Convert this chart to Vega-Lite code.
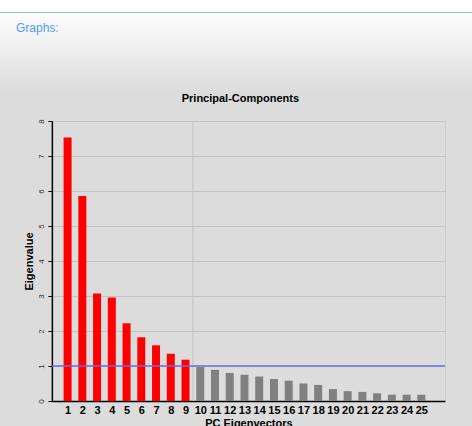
{
  "$schema": "https://vega.github.io/schema/vega-lite/v6.json",
  "background": "#dcdcdc",
  "padding": 0,
  "spacing": 0,
  "center": true,
  "bounds": "full",
  "config": {"font": "Liberation Sans"},
  "vconcat": [
    {
      "width": 498,
      "height": 92,
      "title": {"text": "Graphs:", "anchor": "start", "frame": "group", "orient": "top", "offset": -31, "baseline": "alphabetic", "dx": 16, "dy": 13, "fontSize": 12, "fontWeight": "normal", "color": "#4d9ff5"},
      "view": {"fill": {"gradient": "linear", "x1": 0, "y1": 0, "x2": 0, "y2": 1, "stops": [{"offset": 0, "color": "#ffffff"}, {"offset": 0.125, "color": "#ffffff"}, {"offset": 0.126, "color": "#a2b9cf"}, {"offset": 0.138, "color": "#a2b9cf"}, {"offset": 0.139, "color": "#fdfdfd"}, {"offset": 1, "color": "#dcdcdc"}]}, "stroke": null},
      "data": {"values": [{"t": ""}]},
      "mark": {"type": "text"},
      "encoding": {"text": {"field": "t"}}
    },
    {
      "width": 393,
      "height": 280,
      "title": {"text": "Principal-Components", "fontSize": 11, "fontWeight": "bold", "color": "#000000", "offset": 4, "baseline": "bottom", "dx": -8},
      "view": {"stroke": "#c8c8c8", "fill": "#dcdcdc"},
      "layer": [
        {
          "data": {"values": [{"pc": 9.5}]},
          "mark": {"type": "rule", "color": "#c4c4c4", "strokeWidth": 1},
          "encoding": {"x": {"field": "pc", "type": "quantitative", "scale": {"domain": [0.273, 26.256], "nice": false, "zero": false},
              "axis": {"title": "PC Eigenvectors", "values": [1,2,3,4,5,6,7,8,9,10,11,12,13,14,15,16,17,18,19,20,21,22,23,24,25], "format": "d", "ticks": false, "grid": false, "labelFontSize": 11, "labelFontWeight": "bold", "labelColor": "#000000", "labelPadding": 3, "labelFlush": false, "labelOverlap": false, "domainColor": "#000000", "domainWidth": 1.5, "titleFontSize": 11, "titleFontWeight": "bold", "titleColor": "#000000", "titlePadding": 2}}}
        },
        {
          "data": {"values": [
            {"pc": 1, "eig": 7.53, "grp": "sel"},
            {"pc": 2, "eig": 5.86, "grp": "sel"},
            {"pc": 3, "eig": 3.07, "grp": "sel"},
            {"pc": 4, "eig": 2.96, "grp": "sel"},
            {"pc": 5, "eig": 2.22, "grp": "sel"},
            {"pc": 6, "eig": 1.82, "grp": "sel"},
            {"pc": 7, "eig": 1.59, "grp": "sel"},
            {"pc": 8, "eig": 1.35, "grp": "sel"},
            {"pc": 9, "eig": 1.18, "grp": "sel"},
            {"pc": 10, "eig": 0.97, "grp": "rest"},
            {"pc": 11, "eig": 0.89, "grp": "rest"},
            {"pc": 12, "eig": 0.8, "grp": "rest"},
            {"pc": 13, "eig": 0.75, "grp": "rest"},
            {"pc": 14, "eig": 0.7, "grp": "rest"},
            {"pc": 15, "eig": 0.63, "grp": "rest"},
            {"pc": 16, "eig": 0.58, "grp": "rest"},
            {"pc": 17, "eig": 0.5, "grp": "rest"},
            {"pc": 18, "eig": 0.46, "grp": "rest"},
            {"pc": 19, "eig": 0.34, "grp": "rest"},
            {"pc": 20, "eig": 0.28, "grp": "rest"},
            {"pc": 21, "eig": 0.26, "grp": "rest"},
            {"pc": 22, "eig": 0.22, "grp": "rest"},
            {"pc": 23, "eig": 0.18, "grp": "rest"},
            {"pc": 24, "eig": 0.18, "grp": "rest"},
            {"pc": 25, "eig": 0.18, "grp": "rest"}
          ]},
          "mark": {"type": "bar", "size": 8},
          "encoding": {
            "x": {"field": "pc", "type": "quantitative", "scale": {"domain": [0.273, 26.256], "nice": false, "zero": false},
              "axis": {"title": "PC Eigenvectors", "values": [1,2,3,4,5,6,7,8,9,10,11,12,13,14,15,16,17,18,19,20,21,22,23,24,25], "format": "d", "ticks": false, "grid": false, "labelFontSize": 11, "labelFontWeight": "bold", "labelColor": "#000000", "labelPadding": 3, "labelFlush": false, "labelOverlap": false, "domainColor": "#000000", "domainWidth": 1.5, "titleFontSize": 11, "titleFontWeight": "bold", "titleColor": "#000000", "titlePadding": 2}},
            "y": {"field": "eig", "type": "quantitative", "scale": {"domain": [0, 8], "nice": false},
              "axis": {"title": "Eigenvalue", "values": [0,1,2,3,4,5,6,7,8], "labelAngle": -90, "labelFontSize": 8, "labelColor": "#333333", "labelPadding": 2, "labelOverlap": false, "tickSize": 4, "tickColor": "#000000", "domainColor": "#000000", "domainWidth": 1.5, "grid": true, "gridColor": "#c4c4c4", "titleFontSize": 11, "titleFontWeight": "bold", "titleColor": "#000000", "titlePadding": 3}},
            "color": {"field": "grp", "type": "nominal", "scale": {"domain": ["sel", "rest"], "range": ["#ff0000", "#808080"]}, "legend": null}
          }
        },
        {
          "data": {"values": [{"eig": 1}]},
          "mark": {"type": "rule", "color": "#6b6be0", "strokeWidth": 1.5},
          "encoding": {"y": {"field": "eig", "type": "quantitative", "scale": {"domain": [0, 8], "nice": false},
              "axis": {"title": "Eigenvalue", "values": [0,1,2,3,4,5,6,7,8], "labelAngle": -90, "labelFontSize": 8, "labelColor": "#333333", "labelPadding": 2, "labelOverlap": false, "tickSize": 4, "tickColor": "#000000", "domainColor": "#000000", "domainWidth": 1.5, "grid": true, "gridColor": "#c4c4c4", "titleFontSize": 11, "titleFontWeight": "bold", "titleColor": "#000000", "titlePadding": 3}}}
        }
      ]
    }
  ]
}
